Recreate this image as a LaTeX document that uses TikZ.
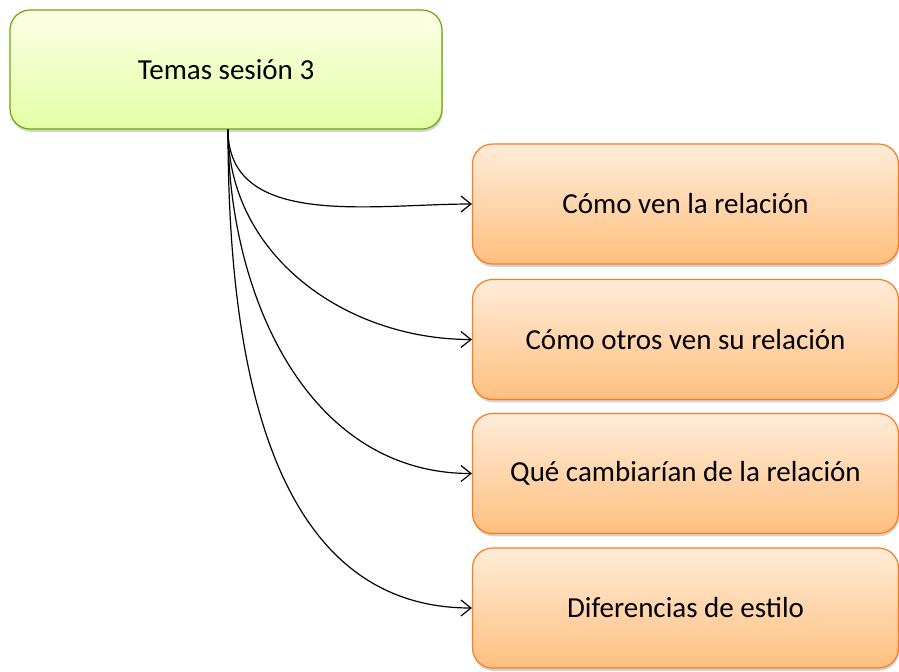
\documentclass[tikz,border=0pt]{standalone}
\usepackage{fontspec}
\setmainfont{Carlito}
\usetikzlibrary{arrows.meta,shadows}
\tikzset{
  tema/.style={rounded corners=10pt, draw=green!45!black!60!yellow, line width=0.6pt,
    top color=green!8!yellow!10, bottom color=green!30!yellow!35,
    minimum width=216pt, minimum height=59.5pt, font=\fontsize{14.5}{17}\selectfont,
    drop shadow={shadow xshift=0.4pt, shadow yshift=-1.4pt, opacity=0.35}},
  punto/.style={rounded corners=10pt, draw=orange!85!red!90!white, line width=0.6pt,
    top color=orange!15!white, bottom color=orange!50!white,
    minimum width=213pt, minimum height=60pt, font=\fontsize{14.5}{17}\selectfont,
    drop shadow={shadow xshift=0.4pt, shadow yshift=-1.4pt, opacity=0.35}},
  flecha/.style={line width=0.6pt, -{Straight Barb[length=5pt,width=8pt]}}
}
\begin{document}
\begin{tikzpicture}[x=0.5pt,y=-0.5pt]
\useasboundingbox (0,0) rectangle (899,671);
% Main topic
\node[tema] (temas) at (226,69.5) {Temas sesión 3};
% Sub topics
\node[punto] (ven)     at (685.5,204)   {Cómo ven la relación};
\node[punto] (otros)   at (685.5,339.5) {Cómo otros ven su relación};
\node[punto] (cambiar) at (685.5,473.5) {Qué cambiarían de la relación};
\node[punto] (estilo)  at (685.5,608)   {Diferencias de estilo};
% Connectors
\foreach \n in {ven,otros,cambiar,estilo}
  \draw[flecha] ([xshift=1pt]temas.south) to[out=-90,in=180] (\n.west);
\end{tikzpicture}
\end{document}
